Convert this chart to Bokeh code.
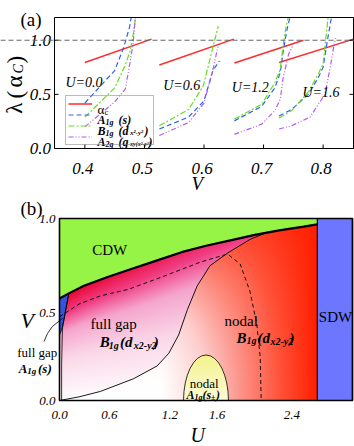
import numpy as np
from bokeh.plotting import figure
from bokeh.layouts import column
from bokeh.models import Label, Legend, LegendItem, Span
from bokeh.core.properties import value
from bokeh.embed import file_html
from bokeh.resources import INLINE

FONT = "Liberation Serif"

# ---------------- panel (a) data ----------------
a_xticks = [0.4, 0.5, 0.6, 0.7, 0.8]
a_xtick_labels = ["0.4", "0.5", "0.6", "0.7", "0.8"]
a_yticks = [0.0, 0.5, 1.0]
a_ytick_labels = ["0.0", "0.5", "1.0"]
u_names = ["U=0.0", "U=0.6", "U=1.2", "U=1.6"]

alpha_u00_v = [0.400, 0.512]; alpha_u00_l = [0.795, 1.010]
alpha_u06_v = [0.525, 0.650]; alpha_u06_l = [0.772, 1.010]
alpha_u12_v = [0.651, 0.767]; alpha_u12_l = [0.790, 1.000]
alpha_u16_v = [0.726, 0.851]; alpha_u16_l = [0.795, 1.010]

a1g_u00_v = [0.400, 0.425, 0.450, 0.465, 0.475, 0.482]
a1g_u00_l = [0.420, 0.570, 0.720, 0.930, 1.120, 1.350]
b1g_u00_v = [0.400, 0.450, 0.467, 0.476, 0.482, 0.487]
b1g_u00_l = [0.290, 0.560, 0.760, 0.900, 1.080, 1.300]
a2g_u00_v = [0.400, 0.450, 0.468, 0.476, 0.481, 0.486]
a2g_u00_l = [0.200, 0.430, 0.550, 0.800, 0.970, 1.300]

a1g_u06_v = [0.525, 0.574, 0.600, 0.615, 0.626]
a1g_u06_l = [0.180, 0.290, 0.440, 0.720, 0.810]
b1g_u06_v = [0.525, 0.574, 0.599, 0.616, 0.624]
b1g_u06_l = [0.210, 0.360, 0.580, 0.960, 1.130]
a2g_u06_v = [0.525, 0.574, 0.600, 0.616, 0.624]
a2g_u06_l = [0.120, 0.240, 0.420, 0.750, 0.960]

a1g_u12_v = [0.651, 0.697, 0.719, 0.728, 0.733, 0.739, 0.748]
a1g_u12_l = [0.255, 0.390, 0.560, 0.700, 0.900, 1.090, 1.300]
b1g_u12_v = [0.651, 0.697, 0.719, 0.728, 0.733, 0.737, 0.745]
b1g_u12_l = [0.270, 0.410, 0.610, 0.730, 0.960, 1.100, 1.300]
a2g_u12_v = [0.651, 0.697, 0.719, 0.728, 0.733, 0.742, 0.750]
a2g_u12_l = [0.130, 0.225, 0.350, 0.455, 0.655, 0.870, 0.960]

a1g_u16_v = [0.726, 0.747, 0.775, 0.792, 0.800, 0.806, 0.812, 0.817]
a1g_u16_l = [0.300, 0.360, 0.500, 0.655, 0.750, 0.960, 1.150, 1.300]
b1g_u16_v = [0.726, 0.747, 0.775, 0.792, 0.800, 0.804, 0.810]
b1g_u16_l = [0.280, 0.350, 0.520, 0.690, 0.780, 0.990, 1.300]
a2g_u16_v = [0.726, 0.747, 0.778, 0.803, 0.812, 0.818, 0.821]
a2g_u16_l = [0.180, 0.210, 0.290, 0.500, 0.750, 0.950, 1.020]

# ---------------- panel (b) data ----------------
b_u_tick_pos = [0.0, 0.51, 1.13, 1.615, 2.38]
b_u_tick_labels = ["0.0", "0.6", "1.2", "1.6", "2.4"]
b_v_tick_pos = [0.0, 0.48, 1.0]
b_v_tick_labels = ["0.0", "0.5", "1.0"]

cdw_u = [0.0, 0.1, 0.25, 0.5, 0.75, 1.0, 1.25, 1.5, 1.75, 2.0, 2.25, 2.5, 2.64]
cdw_v = [0.56, 0.59, 0.63, 0.68, 0.725, 0.77, 0.815, 0.85, 0.88, 0.91, 0.935, 0.955, 0.968]
gap_u = [0.0, 0.2, 0.42, 0.76, 1.0, 1.12, 1.22, 1.31, 1.41, 1.54, 1.72, 1.95, 2.13]
gap_v = [0.0, 0.02, 0.05, 0.12, 0.19, 0.26, 0.36, 0.50, 0.63, 0.74, 0.81, 0.885, 0.925]
dash_u = [0.0, 0.2, 0.42, 0.7, 1.03, 1.44, 1.72, 1.85, 1.95, 2.02, 2.055, 2.065]
dash_v = [0.46, 0.53, 0.575, 0.61, 0.675, 0.76, 0.805, 0.75, 0.60, 0.42, 0.24, 0.0]
sliver_u = [0.0, 0.095, 0.03, 0.0]
sliver_v = [0.56, 0.588, 0.40, 0.36]
a1g_edge_u = [0.095, 0.03, 0.022, 0.022]
a1g_edge_v = [0.588, 0.40, 0.2, 0.0]
callout_u = [-0.159, -0.123, -0.072, 0.031]
callout_v = [0.324, 0.368, 0.407, 0.451]
sdw_u = 2.64
dome_u, dome_hw, dome_h = 1.50, 0.23, 0.25

RED, BLUE, GREEN, PURPLE = "#ff2a2a", "#3060f0", "#66dd22", "#b45af0"

# ---------------- geometry helpers (page px -> data) ----------------
A_L, A_R, A_T, A_B = 54.0, 353.0, 17.0, 148.0
A_X, A_Y = (0.349, 0.851), (0.0, 1.21)
B_L, B_R, B_T, B_B = 59.0, 352.0, 218.0, 400.0
B_X, B_Y = (0.0, 3.0), (0.0, 1.0)
PAGE_W = 354
SPLIT = 193


def a_xy(px, py):
    return (A_X[0] + (px - A_L) / (A_R - A_L) * (A_X[1] - A_X[0]),
            A_Y[0] + (A_B - py) / (A_B - A_T) * (A_Y[1] - A_Y[0]))


def b_xy(px, py):
    return (B_X[0] + (px - B_L) / (B_R - B_L) * (B_X[1] - B_X[0]),
            B_Y[0] + (B_B - py) / (B_B - B_T) * (B_Y[1] - B_Y[0]))


def put(fig, conv, px, py, text, size, style="normal", angle=0.0):
    x, y = conv(px, py)
    fig.add_layout(Label(x=x, y=y, text=text, text_font=FONT,
                         text_font_size=f"{size}px", text_font_style=style,
                         angle=angle, text_align="left",
                         text_baseline="alphabetic", text_color="black"))


def make_fig(conv, top, bottom):
    x0, y0 = conv(0, bottom)
    x1, y1 = conv(PAGE_W, top)
    f = figure(width=PAGE_W, height=int(bottom - top), x_range=(x0, x1), y_range=(y0, y1),
               x_axis_type=None, y_axis_type=None, output_backend="svg",
               toolbar_location=None, min_border=0, min_border_left=0,
               min_border_right=0, min_border_top=0, min_border_bottom=0)
    f.outline_line_color = None
    f.background_fill_color = "white"
    f.border_fill_color = "white"
    return f, (x0, x1, y0, y1)


# ---------------- panel (a) ----------------
pa, (ax0, ax1, ay0, ay1) = make_fig(a_xy, 0, SPLIT)
pxa = (A_X[1] - A_X[0]) / (A_R - A_L)
pya = (A_Y[1] - A_Y[0]) / (A_B - A_T)

pa.add_layout(Span(location=1.0, dimension="width", line_color="#666666",
                   line_dash="5 3", line_width=1))

r_alpha = [pa.line(v, l, line_color=RED, line_width=1.5) for v, l in
           [(alpha_u00_v, alpha_u00_l), (alpha_u06_v, alpha_u06_l),
            (alpha_u12_v, alpha_u12_l), (alpha_u16_v, alpha_u16_l)]]
r_a1g = [pa.line(v, l, line_color=BLUE, line_width=1.2, line_dash="5 3") for v, l in
         [(a1g_u00_v, a1g_u00_l), (a1g_u06_v, a1g_u06_l),
          (a1g_u12_v, a1g_u12_l), (a1g_u16_v, a1g_u16_l)]]
r_b1g = [pa.line(v, l, line_color=GREEN, line_width=1.2, line_dash="6 2 2 2") for v, l in
         [(b1g_u00_v, b1g_u00_l), (b1g_u06_v, b1g_u06_l),
          (b1g_u12_v, b1g_u12_l), (b1g_u16_v, b1g_u16_l)]]
r_a2g = [pa.line(v, l, line_color=PURPLE, line_width=1.2, line_dash="5 2 1 2 1 2") for v, l in
         [(a2g_u00_v, a2g_u00_l), (a2g_u06_v, a2g_u06_l),
          (a2g_u12_v, a2g_u12_l), (a2g_u16_v, a2g_u16_l)]]

# mask outside the axes box (curves leave the top of the box)
pa.quad(left=[ax0], right=[ax1], bottom=[A_Y[1]], top=[ay1], fill_color="white", line_color=None)
pa.quad(left=[A_X[1]], right=[ax1], bottom=[ay0], top=[ay1], fill_color="white", line_color=None)

# axes box, ticks and tick labels
pa.quad(left=[A_X[0]], right=[A_X[1]], bottom=[A_Y[0]], top=[A_Y[1]],
        fill_color=None, line_color="black", line_width=1)
pa.segment(x0=a_xticks, y0=[A_Y[0]] * len(a_xticks), x1=a_xticks,
           y1=[A_Y[0] + 4 * pya] * len(a_xticks), line_color="black", line_width=1)
pa.segment(x0=[A_X[0]] * len(a_yticks), y0=a_yticks, x1=[A_X[0] + 4 * pxa] * len(a_yticks),
           y1=a_yticks, line_color="black", line_width=1)
pa.segment(x0=[A_X[1]] * len(a_yticks), y0=a_yticks, x1=[A_X[1] - 4 * pxa] * len(a_yticks),
           y1=a_yticks, line_color="black", line_width=1)
pa.text(x=a_xticks, y=[a_xy(0, 168)[1]] * len(a_xticks), text=a_xtick_labels,
        text_font=value(FONT), text_font_style="italic", text_font_size="17px",
        text_align="center", text_baseline="alphabetic", x_offset=-2, text_color="black")
pa.text(x=[a_xy(50.5, 0)[0]] * len(a_yticks), y=a_yticks, text=a_ytick_labels,
        text_font=value(FONT), text_font_style="italic", text_font_size="17px",
        text_align="right", text_baseline="middle", text_color="black")

legend = Legend(items=[LegendItem(label=" ", renderers=[r_alpha[0]]),
                       LegendItem(label=" ", renderers=[r_a1g[0]]),
                       LegendItem(label=" ", renderers=[r_b1g[0]]),
                       LegendItem(label=" ", renderers=[r_a2g[0]])],
                location=(65, SPLIT - 145), padding=2, spacing=0, margin=0,
                glyph_width=24, glyph_height=11, label_height=11,
                label_width=55, label_standoff=4, label_text_font_size="8px",
                border_line_color="#777777", border_line_width=1,
                background_fill_alpha=0.0)
pa.add_layout(legend)

# legend texts
put(pa, a_xy, 97, 108.5, "α", 13)
put(pa, a_xy, 104, 111, "c", 9)
put(pa, a_xy, 97, 119, "A", 12, "bold italic")
put(pa, a_xy, 105, 121.5, "1g", 8, "bold italic")
put(pa, a_xy, 118, 119, "(s)", 12, "bold italic")
put(pa, a_xy, 97, 130, "B", 12, "bold italic")
put(pa, a_xy, 105, 132.5, "1g", 8, "bold italic")
put(pa, a_xy, 118, 130, "(d", 12, "bold italic")
put(pa, a_xy, 129.5, 132.5, "x²-y²", 7, "bold italic")
put(pa, a_xy, 144, 130, ")", 12, "bold italic")
put(pa, a_xy, 97, 141, "A", 12, "bold italic")
put(pa, a_xy, 105, 143.5, "2g", 8, "bold italic")
put(pa, a_xy, 118, 141, "(g", 12, "bold italic")
put(pa, a_xy, 129.5, 143.5, "xy(x²-y²)", 6, "bold italic")
put(pa, a_xy, 148, 141, ")", 12, "bold italic")

# U labels
for (px, py), name in zip([(65, 81.7), (162.7, 85), (231.3, 86.7), (302, 91.7)], u_names):
    put(pa, a_xy, px, py, name, 14, "italic")

# axis labels and panel tag
put(pa, a_xy, 20, 18.5, "(a)", 19)
put(pa, a_xy, 191, 182.5, "V", 19, "italic")
put(pa, a_xy, 14, 113.3, "λ", 23, "normal", np.pi / 2)
put(pa, a_xy, 15, 98, "(", 23, "normal", np.pi / 2)
put(pa, a_xy, 14, 87, "α", 23, "normal", np.pi / 2)
put(pa, a_xy, 18, 73, "C", 14, "italic", np.pi / 2)
put(pa, a_xy, 15, 63, ")", 23, "normal", np.pi / 2)

# ---------------- panel (b) ----------------
pb, (bx0, bx1, by0, by1) = make_fig(b_xy, SPLIT, 446)

nx, ny = 293, 182
uc = (np.arange(nx) + 0.5) * (3.0 / nx)
vc = (np.arange(ny) + 0.5) * (1.0 / ny)
UU, VV = np.meshgrid(uc, vc)
cdw_at = np.interp(UU, cdw_u, cdw_v)
gap_at = np.interp(VV, gap_v, gap_u)
rr = np.clip(VV / cdw_at, 0, 1)


def ramp(t, stops, cols):
    cols = np.asarray(cols, float)
    return np.stack([np.interp(t, stops, cols[:, k]) for k in range(3)], axis=-1)


fg_t = np.clip(rr * (1 - 0.12 * UU / 1.3), 0, 1)
full_col = ramp(fg_t, [0, 0.4, 0.65, 0.82, 1.0],
                [(255, 255, 255), (250, 215, 232), (245, 165, 205), (240, 60, 130), (232, 0, 40)])
hh = np.clip((UU - 1.05) / 1.59, 0, 1)
he = 1 - (1 - hh) * (1 - 0.6 * rr ** 2)
nod_col = ramp(he, [0, 0.3, 0.5, 0.75, 1.0],
               [(255, 255, 255), (253, 205, 205), (252, 150, 140), (255, 85, 60), (255, 30, 0)])
rgb = np.where((UU < gap_at)[..., None], full_col, nod_col)
in_dome = ((UU - dome_u) / dome_hw) ** 2 + (VV / dome_h) ** 2 <= 1
dome_col = ramp(np.clip(VV / dome_h, 0, 1), [0, 1], [(252, 250, 215), (244, 242, 140)])
rgb = np.where(in_dome[..., None], dome_col, rgb)
rgb = np.where((VV > cdw_at)[..., None], np.array([150, 244, 70.0]), rgb)
rgb = np.where((UU >= sdw_u)[..., None], np.array([108, 118, 255.0]), rgb)
img = np.empty((ny, nx), dtype=np.uint32)
view = img.view(dtype=np.uint8).reshape((ny, nx, 4))
view[..., :3] = np.round(rgb).astype(np.uint8)
view[..., 3] = 255
pb.image_rgba(image=[img], x=B_X[0], y=B_Y[0], dw=B_X[1] - B_X[0], dh=B_Y[1] - B_Y[0])

pb.quad(left=[sdw_u], right=[B_X[1]], bottom=[B_Y[0]], top=[B_Y[1]], fill_color="#6c76ff",
        line_color="black", line_width=1.2)
pb.patch(sliver_u, sliver_v, fill_color="#3355dd", line_color="black", line_width=0.7)
pb.line(a1g_edge_u, a1g_edge_v, line_color="black", line_width=0.8)
pb.line(gap_u, gap_v, line_color="black", line_width=0.9)
pb.line(dash_u, dash_v, line_color="black", line_width=0.9, line_dash="4 3")
pb.ellipse(x=[dome_u], y=[0.0], width=[2 * dome_hw], height=[2 * dome_h],
           fill_color=None, line_color="black", line_width=0.8)
pb.line(cdw_u, cdw_v, line_color="black", line_width=2.2)
# mask below the box (lower half of the dome ellipse)
pb.quad(left=[bx0], right=[bx1], bottom=[by0], top=[B_Y[0]], fill_color="white", line_color=None)
pb.quad(left=[B_X[0]], right=[B_X[1]], bottom=[B_Y[0]], top=[B_Y[1]],
        fill_color=None, line_color="black", line_width=1.6)
pb.line(callout_u, callout_v, line_color="black", line_width=0.8)

pb.text(x=b_u_tick_pos, y=[b_xy(0, 414.5)[1]] * len(b_u_tick_pos), text=b_u_tick_labels,
        text_font=value(FONT), text_font_style="italic", text_font_size="13px",
        text_align="center", text_baseline="alphabetic", text_color="black")
pb.text(x=[b_xy(55, 0)[0]] * len(b_v_tick_pos), y=b_v_tick_pos, text=b_v_tick_labels,
        text_font=value(FONT), text_font_style="italic", text_font_size="13px",
        text_align="right", text_baseline="middle", text_color="black")

# texts of panel (b)
put(pb, b_xy, 20, 208, "(b)", 19)
put(pb, b_xy, 91.7, 249, "CDW", 15)
put(pb, b_xy, 318.3, 316.7, "SDW", 15)
put(pb, b_xy, 90, 323, "full gap", 15)
put(pb, b_xy, 99.3, 341.5, "B", 15, "bold italic")
put(pb, b_xy, 108.3, 344.5, "1g", 10, "bold italic")
put(pb, b_xy, 119.5, 341.5, "(d", 15, "bold italic")
put(pb, b_xy, 133.3, 345, "x2-y2", 10, "bold italic")
put(pb, b_xy, 153.3, 341.5, ")", 15, "bold italic")
put(pb, b_xy, 224, 320, "nodal", 15)
put(pb, b_xy, 236, 337, "B", 15, "bold italic")
put(pb, b_xy, 246, 340, "1g", 10, "bold italic")
put(pb, b_xy, 257, 337, "(d", 15, "bold italic")
put(pb, b_xy, 270, 340.5, "x2-y2", 10, "bold italic")
put(pb, b_xy, 289, 337, ")", 15, "bold italic")
put(pb, b_xy, 189.3, 383, "nodal", 13)
put(pb, b_xy, 186, 394.5, "A", 12, "bold italic")
put(pb, b_xy, 194, 397, "1g", 8, "bold italic")
put(pb, b_xy, 202, 394.5, "(s", 12, "bold italic")
put(pb, b_xy, 210.5, 397, "±", 8, "bold italic")
put(pb, b_xy, 215.5, 394.5, ")", 12, "bold italic")
put(pb, b_xy, 16.7, 352, "full gap", 13)
put(pb, b_xy, 18.3, 367.5, "A", 13, "bold italic")
put(pb, b_xy, 26.7, 370, "1g", 9, "bold italic")
put(pb, b_xy, 37.5, 367.5, "(s)", 13, "bold italic")
put(pb, b_xy, 20, 320, "V", 22, "italic")
put(pb, b_xy, 190, 434, "U", 20, "italic")

layout = column(pa, pb)
open("out.html", "w").write(file_html(layout, INLINE))
